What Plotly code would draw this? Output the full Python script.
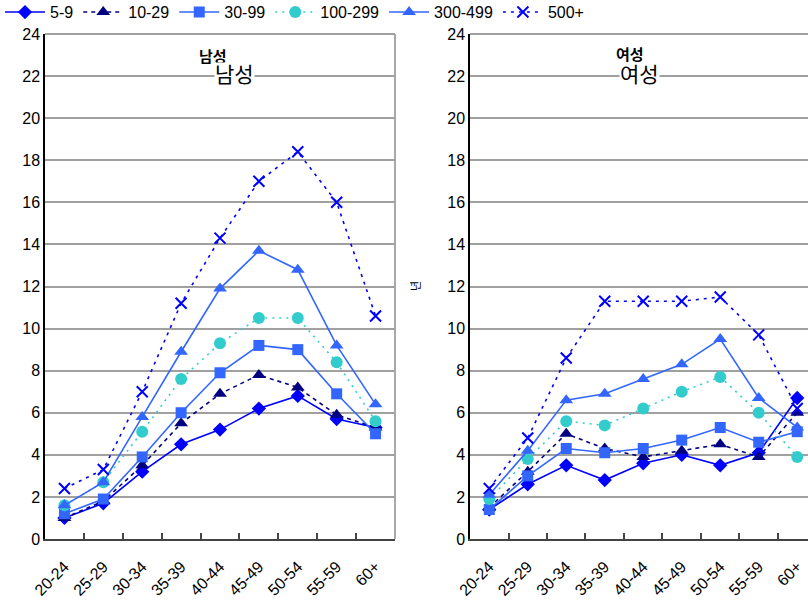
import plotly.graph_objects as go
from plotly.subplots import make_subplots

ages = ["20-24", "25-29", "30-34", "35-39", "40-44", "45-49", "50-54", "55-59", "60+"]
groups = ["5-9", "10-29", "30-99", "100-299", "300-499", "500+"]

male_5_9 = [1.0, 1.7, 3.2, 4.5, 5.2, 6.2, 6.8, 5.7, 5.3]
male_10_29 = [1.0, 1.8, 3.5, 5.5, 6.9, 7.8, 7.2, 5.9, 5.3]
male_30_99 = [1.2, 1.9, 3.9, 6.0, 7.9, 9.2, 9.0, 6.9, 5.0]
male_100_299 = [1.6, 2.7, 5.1, 7.6, 9.3, 10.5, 10.5, 8.4, 5.6]
male_300_499 = [1.6, 2.7, 5.8, 8.9, 11.9, 13.7, 12.8, 9.2, 6.4]
male_500 = [2.4, 3.3, 7.0, 11.2, 14.3, 17.0, 18.4, 16.0, 10.6]

female_5_9 = [1.4, 2.6, 3.5, 2.8, 3.6, 4.0, 3.5, 4.1, 6.7]
female_10_29 = [1.5, 3.2, 5.0, 4.3, 3.9, 4.2, 4.5, 3.9, 6.0]
female_30_99 = [1.4, 3.0, 4.3, 4.1, 4.3, 4.7, 5.3, 4.6, 5.1]
female_100_299 = [1.9, 3.8, 5.6, 5.4, 6.2, 7.0, 7.7, 6.0, 3.9]
female_300_499 = [2.1, 4.2, 6.6, 6.9, 7.6, 8.3, 9.5, 6.7, 5.3]
female_500 = [2.4, 4.8, 8.6, 11.3, 11.3, 11.3, 11.5, 9.7, 6.2]

y_ticks = list(range(0, 25, 2))
panel_titles = ["남성", "여성"]
y_title = "년"

male = [male_5_9, male_10_29, male_30_99, male_100_299, male_300_499, male_500]
female = [female_5_9, female_10_29, female_30_99, female_100_299, female_300_499, female_500]

styles = [
    dict(color="#0000FF", dash="solid", symbol="diamond", size=11),
    dict(color="#000080", dash="4px,4px", symbol="triangle-up", size=12),
    dict(color="#3366FF", dash="solid", symbol="square", size=11),
    dict(color="#33CCCC", dash="2px,5px", symbol="circle", size=12),
    dict(color="#3366FF", dash="solid", symbol="triangle-up", size=12),
    dict(color="#0000FF", dash="3px,5px", symbol="x-thin-open", size=11),
]

FONT = "Liberation Sans, Arial, Noto Sans CJK KR, sans-serif"
W, H = 808, 607

fig = make_subplots(rows=1, cols=2)

for col, data in ((1, male), (2, female)):
    for name, vals, st in zip(groups, data, styles):
        mk = dict(symbol=st["symbol"], size=st["size"], color=st["color"])
        if st["symbol"] == "x-thin-open":
            mk["line"] = dict(color=st["color"], width=2)
        fig.add_trace(go.Scatter(
            x=ages, y=vals, name=name, mode="lines+markers",
            line=dict(color=st["color"], dash=st["dash"], width=1.6),
            marker=mk, showlegend=(col == 1)), row=1, col=col)

yd = [(H - 539) / H, (H - 34) / H]
fig.update_layout(
    width=W, height=H,
    margin=dict(l=0, r=0, t=0, b=0, autoexpand=False),
    paper_bgcolor="white", plot_bgcolor="white",
    font=dict(family=FONT, size=16, color="#000000"),
    legend=dict(orientation="h", x=0.0, y=1.008, yanchor="top", xanchor="left",
                font=dict(size=16), itemwidth=40, tracegroupgap=0,
                bgcolor="rgba(0,0,0,0)"),
    xaxis=dict(domain=[45 / W, 395 / W], range=[-0.5, 8.5]),
    xaxis2=dict(domain=[470 / W, 1.0], range=[-0.5, 8.28]),
    yaxis=dict(domain=yd),
    yaxis2=dict(domain=yd),
)

for xa in ("xaxis", "xaxis2"):
    fig.layout[xa].update(
        type="category", showgrid=False, showline=True, linecolor="#444444", linewidth=2,
        ticks="inside", tickson="boundaries", ticklen=6, tickcolor="#444444", tickwidth=1.5,
        tickangle=-45, tickfont=dict(size=16), ticklabelstandoff=10, zeroline=False)
for ya in ("yaxis", "yaxis2"):
    fig.layout[ya].update(
        range=[0, 24], tickvals=y_ticks, showgrid=True, gridcolor="#A0A0A0", gridwidth=1.8,
        showline=True, linecolor="#000000", linewidth=1.5, ticks="", tickfont=dict(size=16),
        zeroline=False, layer="below traces")

# frame borders (top/right) in gray
fig.add_shape(type="line", xref="x domain", yref="y domain", x0=0, x1=1, y0=1, y1=1,
              line=dict(color="#A0A0A0", width=1.8), layer="below")
fig.add_shape(type="line", xref="x domain", yref="y domain", x0=1, x1=1, y0=0, y1=1,
              line=dict(color="#A0A0A0", width=1.8), layer="below")
fig.add_shape(type="line", xref="x2 domain", yref="y2 domain", x0=0, x1=1, y0=1, y1=1,
              line=dict(color="#A0A0A0", width=1.8), layer="below")

# panel titles: small bold one behind, larger one with white box over gridline
for (sx, lx, sy), title in zip(((213, 235, 57), (630, 639, 54)), panel_titles):
    fig.add_annotation(text=f"<b>{title}</b>", xref="paper", yref="paper",
                       x=sx / W, y=(H - sy) / H, xanchor="center", yanchor="middle",
                       showarrow=False, font=dict(size=15, family=FONT))
    fig.add_annotation(text=title, xref="paper", yref="paper",
                       x=lx / W, y=(H - 74) / H, xanchor="center", yanchor="middle",
                       showarrow=False, bgcolor="white",
                       borderpad=0, font=dict(size=21, family=FONT))

fig.add_annotation(text=y_title, xref="paper", yref="paper", x=416 / W, y=(H - 286) / H,
                   xanchor="center", yanchor="middle",
                   showarrow=False, textangle=-90, font=dict(size=11, family=FONT))

fig.write_html("out.html", config={"displayModeBar": False},
               post_script="document.body.style.margin='0';document.body.style.overflow='hidden';")
